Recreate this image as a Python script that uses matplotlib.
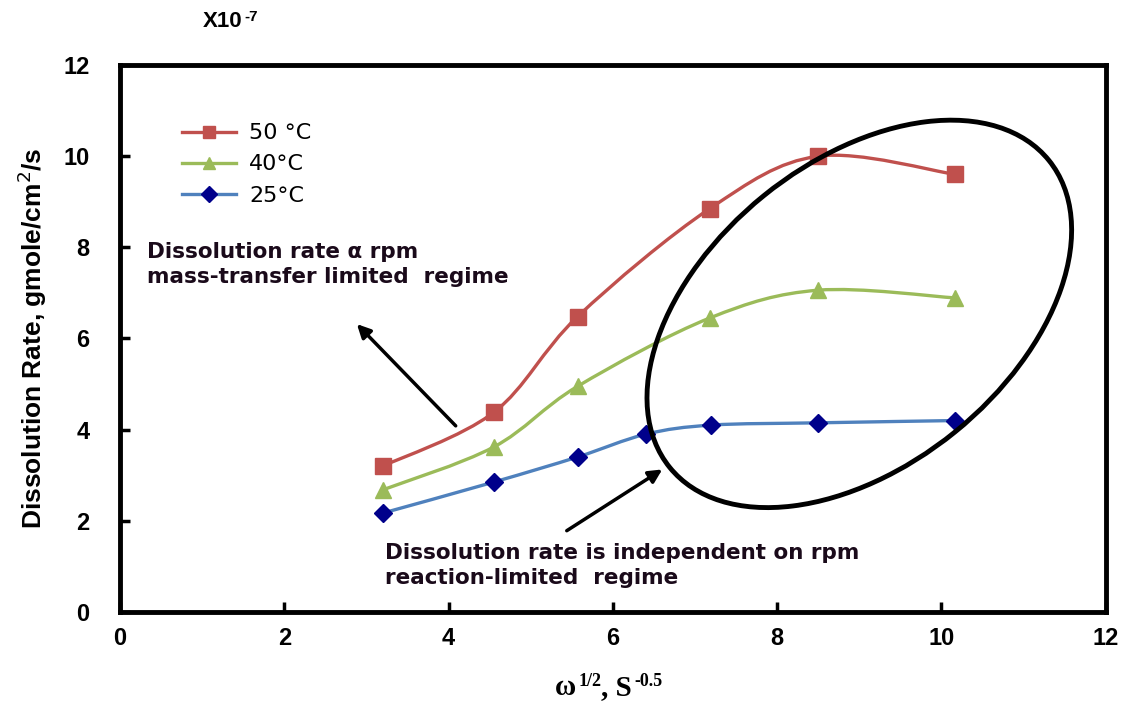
import numpy as np
import matplotlib
matplotlib.use('Agg')
import matplotlib.pyplot as plt
from matplotlib.path import Path
from matplotlib.patches import PathPatch, Ellipse
from matplotlib.transforms import Affine2D
from matplotlib.lines import Line2D

# data (rate in units of 1e-7 gmole/cm2/s)
x_50 = [3.2, 4.55, 5.57, 7.18, 8.5, 10.17]
y_50 = [3.2, 4.38, 6.48, 8.85, 10.0, 9.6]
x_40 = [3.2, 4.55, 5.57, 7.18, 8.5, 10.17]
y_40 = [2.68, 3.62, 4.95, 6.45, 7.06, 6.89]
x_25 = [3.2, 4.55, 5.57, 6.4, 7.2, 8.5, 10.17]
y_25 = [2.17, 2.85, 3.40, 3.90, 4.10, 4.15, 4.20]
labels = ['50 °C', '40°C', '25°C']
xticks = [0, 2, 4, 6, 8, 10, 12]
yticks = [0, 2, 4, 6, 8, 10, 12]


def smooth_path(xs, ys):
    # excel style smoothed line: cubic bezier through every point
    pts = np.column_stack([xs, ys])
    n = len(pts)
    verts = [pts[0]]
    codes = [Path.MOVETO]
    for i in range(n - 1):
        p0 = pts[i - 1] if i > 0 else pts[i]
        p1 = pts[i]
        p2 = pts[i + 1]
        p3 = pts[i + 2] if i + 2 < n else pts[i + 1]
        c1 = p1 + (p2 - p0) / 6.0
        c2 = p2 - (p3 - p1) / 6.0
        verts += [c1, c2, p2]
        codes += [Path.CURVE4] * 3
    return Path(verts, codes)


def with_sup(fig, x, y, base, sup, font, size, sup_size):
    # base text followed by a raised smaller text (keeps a plain hyphen)
    t = fig.text(x, y, base, family=font, weight='bold', size=size, va='bottom')
    ann = plt.annotate(sup, xy=(1, 0.55), xycoords=t, xytext=(1.5, 0), textcoords='offset points',
                       family=font, weight='bold', size=sup_size, va='baseline')
    return t, ann


fig = plt.figure(figsize=(11.26, 7.13), dpi=100)
ax = fig.add_axes([0.1066, 0.1417, 0.8754, 0.7671])
ax.set_xlim(0, 12)
ax.set_ylim(0, 12)

series = [
    (x_50, y_50, '#C0504D', '#C0504D', 's', 11),
    (x_40, y_40, '#9BBB59', '#9BBB59', '^', 11),
    (x_25, y_25, '#4F81BD', '#00008B', 'D', 9),
]
handles = []
for (xs, ys, lc, mc, mk, ms), lab in zip(series, labels):
    ax.add_patch(PathPatch(smooth_path(xs, ys), fill=False, edgecolor=lc, lw=2.4, zorder=2))
    ax.plot(xs, ys, ls='none', marker=mk, ms=ms, color=mc, zorder=3)
    handles.append(Line2D([], [], color=lc, lw=2.4, marker=mk, ms=ms * 0.85, markerfacecolor=mc,
                          markeredgecolor=mc))

leg = ax.legend(handles, labels, loc='upper left', bbox_to_anchor=(0.043, 0.93), frameon=False,
                prop={'family': 'DejaVu Sans', 'size': 16}, handlelength=2.4,
                labelspacing=0.5, handletextpad=0.6)

# ellipse around plateau (drawn in pixel-like units then mapped to data)
sx = 986 / 12.0
sy = 547 / 12.0
ell = Ellipse((0, 0), 2 * 244, 2 * 152, angle=39, fill=False, edgecolor='black', lw=3.5,
              transform=Affine2D().scale(1 / sx, 1 / sy).translate(9.0, 6.54) + ax.transData,
              zorder=4)
ax.add_patch(ell)

# arrows
ax.annotate('', xy=(2.86, 6.36), xytext=(4.11, 4.04),
            arrowprops=dict(arrowstyle='-|>', color='black', lw=2.5, mutation_scale=20))
ax.annotate('', xy=(6.63, 3.16), xytext=(5.41, 1.75),
            arrowprops=dict(arrowstyle='-|>', color='black', lw=2.5, mutation_scale=20))

note_font = dict(family='DejaVu Sans', weight='bold', size=15.5, color='#1a0a1a')
ax.text(0.33, 7.9, 'Dissolution rate \u03b1 rpm', va='center', **note_font)
ax.text(0.33, 7.35, 'mass-transfer limited  regime', va='center', **note_font)
ax.text(3.22, 1.29, 'Dissolution rate is independent on rpm', va='center', **note_font)
ax.text(3.22, 0.75, 'reaction-limited  regime', va='center', **note_font)

for s in ax.spines.values():
    s.set_linewidth(3.5)
ax.set_xticks(xticks)
ax.set_yticks(yticks)
ax.tick_params(direction='in', length=7, width=2.5, labelsize=17, pad=11)
ax.tick_params(axis='y', pad=22)
for t in ax.get_xticklabels() + ax.get_yticklabels():
    t.set_fontweight('bold')
    t.set_family(['Liberation Sans'])

ax.set_ylabel('Dissolution Rate, gmole/cm$^2$/s', family=['Liberation Sans'],
              weight='bold', size=19, labelpad=10)

# x label and exponent note built from pieces so the minus stays a hyphen
t1, a1 = with_sup(fig, 0.493, 0.017, '\u03c9', '1/2', 'Liberation Serif', 21, 13)
a2 = plt.annotate(', S', xy=(1, 0), xycoords=(a1, t1), xytext=(0, 0), textcoords='offset points',
                  family='Liberation Serif', weight='bold', size=21, va='bottom')
plt.annotate('-0.5', xy=(1, 0.55), xycoords=a2, xytext=(1.5, 0), textcoords='offset points',
             family='Liberation Serif', weight='bold', size=13, va='baseline')
with_sup(fig, 0.18, 0.955, 'X10', '-7', 'Liberation Sans', 16, 11)

fig.savefig('out.png', dpi=100)
